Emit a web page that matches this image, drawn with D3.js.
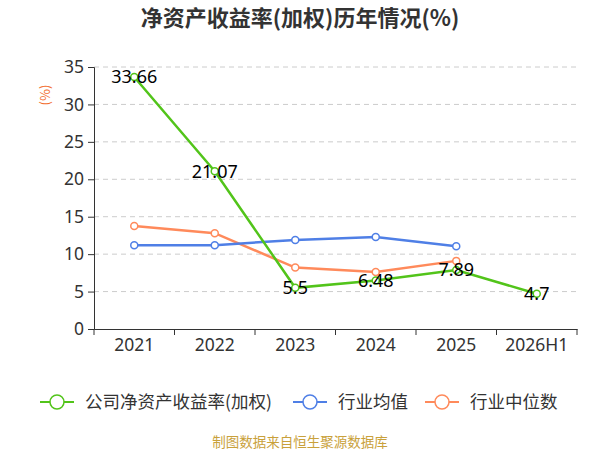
<!DOCTYPE html>
<html lang="zh">
<head>
<meta charset="UTF-8">
<title>净资产收益率(加权)历年情况</title>
<script src="https://cdn.jsdelivr.net/npm/d3@7"></script>
<style>
    html, body { margin: 0; background: #fff; }
    svg { font-family: "Noto Sans CJK SC", "Noto Sans", sans-serif; }
</style>
</head>
<body>
<div id="vis"></div>
<script>
    // data
    var categories = ["2021", "2022", "2023", "2024", "2025", "2026H1"];
    var companyRoe = [33.66, 21.07, 5.5, 6.48, 7.89, 4.7];
    var industryAvg = [11.2, 11.2, 11.9, 12.3, 11.05, null];
    var industryMedian = [13.75, 12.8, 8.2, 7.6, 9.1, null];
    var yTicks = [0, 5, 10, 15, 20, 25, 30, 35];

    var series = [
        {name: "公司净资产收益率(加权)", values: companyRoe, color: "#52c41a"},
        {name: "行业均值", values: industryAvg, color: "#4f7fe6"},
        {name: "行业中位数", values: industryMedian, color: "#ff8a5b"}
    ];

    var width = 600, height = 450;
    var margin = {top: 67, right: 23, bottom: 121, left: 94};

    var svg = d3.select("#vis").append("svg")
        .attr("width", width)
        .attr("height", height);

    svg.append("text")
        .attr("x", 300)
        .attr("y", 26)
        .attr("text-anchor", "middle")
        .attr("font-size", 22)
        .attr("font-weight", "bold")
        .attr("fill", "#333")
        .text("净资产收益率(加权)历年情况(%)");

    var g = svg.append("g")
        .attr("transform", "translate(" + margin.left + "," + margin.top + ")");

    var w = width - margin.left - margin.right;
    var h = height - margin.top - margin.bottom;

    var x = d3.scaleBand().domain(categories).range([0, w]);
    var y = d3.scaleLinear().domain([0, 35]).range([h, 0]);

    // grid
    g.append("g").selectAll("line")
        .data(yTicks.filter(function(d) { return d > 0; }))
        .enter().append("line")
        .attr("x1", 0).attr("x2", w)
        .attr("y1", function(d) { return y(d); })
        .attr("y2", function(d) { return y(d); })
        .attr("stroke", "#ccc")
        .attr("stroke-dasharray", "5,4");

    // y axis
    var yAxis = g.append("g")
        .call(d3.axisLeft(y).tickValues(yTicks).tickSize(6).tickPadding(4));
    yAxis.select(".domain").attr("stroke", "#333");
    yAxis.selectAll(".tick line").attr("stroke", "#333");
    yAxis.selectAll("text").attr("font-size", 17.5).attr("fill", "#333")
        .attr("font-family", "Noto Sans, sans-serif");

    // x axis
    var xAxis = g.append("g")
        .attr("transform", "translate(0," + h + ")")
        .call(d3.axisBottom(x).tickSize(0).tickPadding(10));
    xAxis.select(".domain").attr("stroke", "#333");
    xAxis.selectAll("text").attr("font-size", 17.5).attr("fill", "#333")
        .attr("font-family", "Noto Sans, sans-serif");
    xAxis.selectAll(".bound")
        .data(d3.range(categories.length + 1))
        .enter().append("line")
        .attr("class", "bound")
        .attr("x1", function(i) { return i * x.step(); })
        .attr("x2", function(i) { return i * x.step(); })
        .attr("y1", 0).attr("y2", 6)
        .attr("stroke", "#333");

    // unit label
    svg.append("text")
        .attr("transform", "translate(50,95) rotate(-90)")
        .attr("text-anchor", "middle")
        .attr("font-size", 13)
        .attr("fill", "#f26b2b")
        .text("(%)");

    var line = d3.line()
        .defined(function(d) { return d != null; })
        .x(function(d, i) { return x(categories[i]) + x.bandwidth() / 2; })
        .y(function(d) { return y(d); });

    // draw in reverse so the company line sits on top
    series.slice().reverse().forEach(function(s) {
        g.append("path")
            .datum(s.values)
            .attr("fill", "none")
            .attr("stroke", s.color)
            .attr("stroke-width", 2.5)
            .attr("d", line);

        g.append("g").selectAll("circle")
            .data(s.values.map(function(v, i) { return {v: v, i: i}; })
                .filter(function(d) { return d.v != null; }))
            .enter().append("circle")
            .attr("cx", function(d) { return x(categories[d.i]) + x.bandwidth() / 2; })
            .attr("cy", function(d) { return y(d.v); })
            .attr("r", 3.5)
            .attr("fill", "#fff")
            .attr("stroke", s.color)
            .attr("stroke-width", 1.5);
    });

    // value labels for the company series
    g.append("g").selectAll("text")
        .data(companyRoe)
        .enter().append("text")
        .attr("x", function(d, i) { return x(categories[i]) + x.bandwidth() / 2; })
        .attr("y", function(d) { return y(d); })
        .attr("dy", "0.35em")
        .attr("text-anchor", "middle")
        .attr("font-size", 18)
        .attr("font-family", "Noto Sans, sans-serif")
        .attr("fill", "#000")
        .text(function(d) { return d; });

    // legend
    var legendX = [40, 293, 425];
    var legend = svg.append("g").selectAll("g")
        .data(series)
        .enter().append("g")
        .attr("transform", function(d, i) { return "translate(" + legendX[i] + ",402)"; });
    legend.append("line")
        .attr("x1", 0).attr("x2", 34)
        .attr("stroke", function(d) { return d.color; })
        .attr("stroke-width", 2);
    legend.append("circle")
        .attr("cx", 17).attr("r", 7)
        .attr("fill", "#fff")
        .attr("stroke", function(d) { return d.color; })
        .attr("stroke-width", 1.5);
    legend.append("text")
        .attr("x", 45)
        .attr("dy", "0.35em")
        .attr("font-size", 17.5)
        .attr("fill", "#333")
        .text(function(d) { return d.name; });

    svg.append("text")
        .attr("x", 300)
        .attr("y", 447)
        .attr("text-anchor", "middle")
        .attr("font-size", 13.5)
        .attr("fill", "#c9a13b")
        .text("制图数据来自恒生聚源数据库");
</script>
</body>
</html>
